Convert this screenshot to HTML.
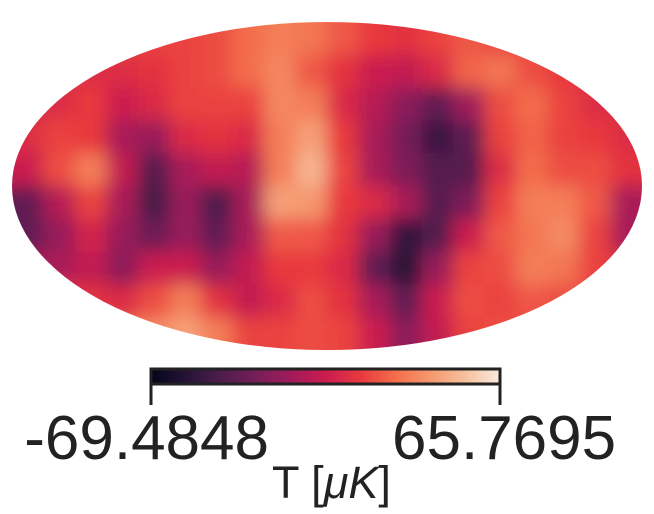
<!DOCTYPE html>
<html><head><meta charset="utf-8"><style>
html,body{margin:0;padding:0;background:#fff;}
svg{display:block;font-family:"Liberation Sans",sans-serif;}
</style></head><body>
<svg id="c" width="654" height="514" viewBox="0 0 654 514">
<defs>
<clipPath id="ell"><ellipse cx="327" cy="186" rx="315" ry="164"/></clipPath>
<filter id="bl" x="-10%" y="-10%" width="120%" height="120%"><feGaussianBlur stdDeviation="9"/></filter>
<linearGradient id="cg" x1="0" x2="1" y1="0" y2="0"></linearGradient>
</defs>
<g clip-path="url(#ell)">
<g id="cells" filter="url(#bl)"></g>
</g>
<rect x="151" y="369" width="349" height="15" fill="url(#cg)" stroke="#222" stroke-width="3"/>
<line x1="151" y1="384" x2="151" y2="405" stroke="#222" stroke-width="3"/>
<line x1="500" y1="384" x2="500" y2="405" stroke="#222" stroke-width="3"/>
<text id="tmin" x="269" y="459" font-size="62" text-anchor="end" fill="#222"></text>
<text id="tmax" x="392" y="459" font-size="62" text-anchor="start" fill="#222"></text>
<text x="272" y="498" font-size="45" fill="#222">T [<tspan font-style="italic">μK</tspan>]</text>
</svg>
<script>
const tickLabels = ["-69.4848", "65.7695"];
const gridCols = 20;
const gridRows = 10;
// normalized temperature (0 = min, 1 = max) per grid cell, row-major top to bottom
const row0 = [.62,.62,.62,.62,.62,.62,.64,.7,.74,.72,.66,.6,.58,.62,.66,.62,.62,.62,.62,.62];
const row1 = [.56,.56,.56,.56,.58,.62,.64,.7,.76,.66,.58,.5,.48,.55,.68,.72,.64,.6,.56,.56];
const row2 = [.56,.56,.6,.5,.55,.62,.62,.62,.76,.74,.55,.45,.35,.25,.4,.64,.7,.62,.56,.56];
const row3 = [.56,.62,.6,.42,.38,.55,.58,.55,.74,.82,.6,.42,.3,.15,.25,.62,.68,.62,.6,.56];
const row4 = [.5,.64,.74,.48,.22,.42,.48,.45,.74,.87,.62,.42,.32,.22,.22,.56,.7,.64,.64,.58];
const row5 = [.25,.45,.62,.42,.18,.38,.2,.42,.82,.8,.6,.55,.42,.22,.32,.62,.74,.74,.66,.42];
const row6 = [.25,.38,.52,.38,.28,.38,.25,.42,.66,.66,.58,.38,.12,.22,.5,.66,.72,.77,.62,.42];
const row7 = [.42,.42,.48,.35,.5,.5,.38,.48,.6,.6,.55,.25,.1,.38,.62,.64,.74,.72,.62,.56];
const row8 = [.62,.6,.58,.55,.64,.74,.58,.48,.55,.64,.58,.42,.25,.5,.64,.62,.66,.64,.62,.62];
const row9 = [.62,.62,.64,.68,.77,.82,.74,.62,.62,.64,.62,.5,.35,.48,.62,.64,.62,.62,.62,.62];
const tempGrid = [row0,row1,row2,row3,row4,row5,row6,row7,row8,row9];

const stops=[[3,5,26],[38,18,54],[76,29,75],[117,31,88],[161,27,91],[203,27,79],[232,57,62],[243,109,75],[245,152,110],[246,192,158],[250,235,221]];
function cmap(t){t=Math.max(0,Math.min(1,t));const f=t*10,i=Math.min(9,Math.floor(f)),u=f-i;const a=stops[i],b=stops[i+1];
return 'rgb('+a.map((v,k)=>Math.round(v+(b[k]-v)*u)).join(',')+')';}
const X0=12,Y0=22,W=630,H=328;
const xs=c=>X0+c*W/gridCols, ys=r=>Y0+r*H/gridRows;
const ns='http://www.w3.org/2000/svg';
const g=document.getElementById('cells');
const bg=document.createElementNS(ns,'rect');
bg.setAttribute('x',-20);bg.setAttribute('y',-20);bg.setAttribute('width',700);bg.setAttribute('height',400);bg.setAttribute('fill',cmap(0.62));


g.appendChild(bg);
tempGrid.forEach((row,r)=>row.forEach((v,c)=>{
  const e=document.createElementNS(ns,'rect');
  let x=xs(c),y=ys(r),w=W/gridCols+0.6,h=H/gridRows+0.6;
  if(c===0){x-=30;w+=30;} if(c===gridCols-1){w+=30;}
  if(r===0){y-=30;h+=30;} if(r===gridRows-1){h+=30;}
  e.setAttribute('x',x);e.setAttribute('y',y);e.setAttribute('width',w);e.setAttribute('height',h);
  e.setAttribute('fill',cmap(v));
  
  
  g.appendChild(e);
}));
const cg=document.getElementById('cg');
for(let i=0;i<=20;i++){const s=document.createElementNS(ns,'stop');s.setAttribute('offset',i/20);s.setAttribute('stop-color',cmap(i/20));cg.appendChild(s);}
document.getElementById('tmin').textContent=tickLabels[0];
document.getElementById('tmax').textContent=tickLabels[1];
</script>
</body></html>
